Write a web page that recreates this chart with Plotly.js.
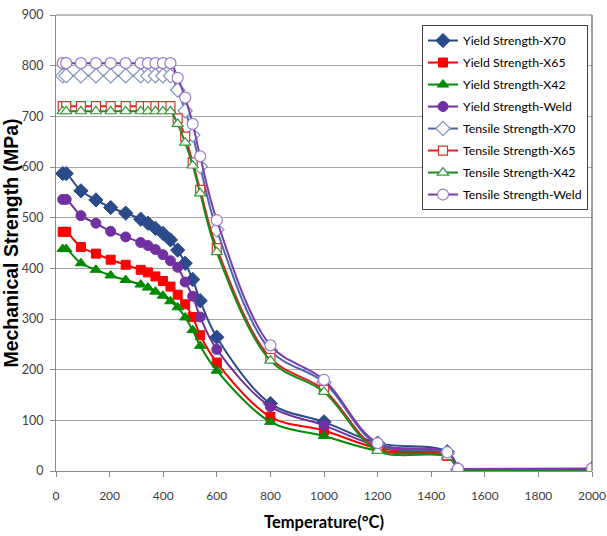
<!DOCTYPE html>
<html>
<head>
<meta charset="utf-8">
<script src="https://cdn.plot.ly/plotly-3.0.1.min.js"></script>
<style>html,body{margin:0;padding:0;background:#fff;}#chart{width:607px;height:536px;}</style>
</head>
<body>
<div id="chart"></div>
<script>
// Temperatures (°C)
const temperature = [25, 38, 93, 149, 204, 260, 316, 343, 371, 399, 427, 454, 482, 510, 538, 600, 800, 1000, 1200, 1460, 1500, 2000];

// Yield strength (MPa)
const yieldX70  = [587, 587, 553, 535, 520, 509, 497, 489, 479, 469, 456, 436, 410, 378, 336, 264, 133, 97, 55, 38, 3, 4];
const yieldX65  = [472, 472, 442, 429, 417, 407, 397, 392, 384, 375, 364, 348, 329, 304, 268, 214, 107, 80, 45, 32, 2, 3];
const yieldX42  = [438, 438, 410, 397, 386, 377, 368, 362, 354, 346, 335, 323, 303, 278, 247, 198, 97, 69, 40, 30, 1, 2];
const yieldWeld = [536, 536, 504, 489, 473, 462, 451, 445, 437, 427, 415, 402, 373, 345, 304, 240, 127, 90, 50, 35, 3, 4];

// Tensile strength (MPa)
const tensileX70  = [780, 780, 780, 780, 780, 780, 780, 780, 780, 780, 780, 752, 711, 663, 601, 476, 238, 175, 52, 35, 3, 4];
const tensileX65  = [720, 720, 720, 720, 720, 720, 720, 720, 720, 720, 720, 696, 660, 609, 555, 440, 223, 160, 44, 30, 2, 3];
const tensileX42  = [710, 710, 710, 710, 710, 710, 710, 710, 710, 710, 710, 685, 648, 603, 548, 432, 218, 156, 40, 28, 1, 2];
const tensileWeld = [805, 805, 805, 805, 805, 805, 805, 805, 805, 805, 805, 776, 737, 685, 621, 495, 248, 180, 55, 37, 4, 5];

const seriesNames = [
  'Yield Strength-X70', 'Yield Strength-X65', 'Yield Strength-X42', 'Yield Strength-Weld',
  'Tensile Strength-X70', 'Tensile Strength-X65', 'Tensile Strength-X42', 'Tensile Strength-Weld'
];

const TXT = 'Lato, "Liberation Sans", sans-serif';
const SPLIT = temperature.indexOf(1500); // spline up to 1500 °C, straight segment after

function makeSeries(idx, y, lineColor, fill, markColor, symbol, size) {
  const common = {
    type: 'scatter', mode: 'lines+markers', legendgroup: 'g' + idx,
    marker: {color: fill, symbol: symbol, size: size, line: {color: markColor, width: fill === '#ffffff' ? 1.2 : 1}}
  };
  const main = Object.assign({}, common, {
    name: seriesNames[idx], x: temperature.slice(0, SPLIT + 1), y: y.slice(0, SPLIT + 1),
    line: {color: lineColor, width: 2, shape: 'spline', smoothing: 1}
  });
  const tail = Object.assign({}, common, {
    name: seriesNames[idx], showlegend: false, x: temperature.slice(SPLIT), y: y.slice(SPLIT),
    line: {color: lineColor, width: 2, shape: 'linear'}
  });
  return [main, tail];
}

const data = [].concat(
  makeSeries(0, yieldX70,  '#2a4a8a', '#2a4a8a', '#2a4a8a', 'diamond', 11),
  makeSeries(1, yieldX65,  '#ff0000', '#ff0000', '#ff0000', 'square', 9),
  makeSeries(2, yieldX42,  '#008a00', '#008a00', '#008a00', 'triangle-up', 10),
  makeSeries(3, yieldWeld, '#7030a0', '#7030a0', '#7030a0', 'circle', 10),
  makeSeries(4, tensileX70,  '#4a66a8', '#ffffff', '#7f93b8', 'diamond', 11),
  makeSeries(5, tensileX65,  '#e02020', '#ffffff', '#e03030', 'square', 9),
  makeSeries(6, tensileX42,  '#1a8a1a', '#ffffff', '#3a9a3a', 'triangle-up', 10),
  makeSeries(7, tensileWeld, '#7a3ab0', '#ffffff', '#9a7ac8', 'circle', 11)
);

const layout = {
  width: 607, height: 536,
  margin: {l: 56, r: 15, t: 15, b: 65},
  paper_bgcolor: '#ffffff', plot_bgcolor: '#ffffff',
  showlegend: true,
  font: {family: TXT, size: 12.5, color: '#404040'},
  xaxis: {
    range: [0, 2000], dtick: 200, tick0: 0,
    showgrid: false, zeroline: false,
    showline: true, linecolor: '#8a8a8a', linewidth: 1,
    ticks: 'outside', ticklen: 5, tickcolor: '#8a8a8a',
    ticklabelstandoff: 9, ticklabeloverflow: 'allow',
    tickfont: {family: TXT, size: 12, color: '#404040'},
    title: {text: 'Temperature(°C)', standoff: 14,
            font: {family: TXT, size: 16.5, color: '#000000', weight: 'bold'}}
  },
  yaxis: {
    range: [0, 900], dtick: 100, tick0: 0,
    showgrid: true, gridcolor: '#a6a6a6', gridwidth: 1, zeroline: false,
    showline: true, linecolor: '#8a8a8a', linewidth: 1,
    ticks: 'outside', ticklen: 5, tickcolor: '#8a8a8a',
    ticklabelstandoff: 4,
    tickfont: {family: TXT, size: 12.5, color: '#404040'},
    title: {text: 'Mechanical Strength (MPa)', standoff: 0,
            font: {family: '"Liberation Sans", Arial, sans-serif', size: 19.5, color: '#000000', weight: 'bold'}}
  },
  legend: {
    x: 0.9925, y: 0.978, xanchor: 'right', yanchor: 'top',
    bgcolor: '#ffffff', bordercolor: '#404040', borderwidth: 1,
    font: {family: TXT, size: 12.3, color: '#000000'},
    itemwidth: 30, tracegroupgap: 3, traceorder: 'grouped'
  },
  shapes: [
    {type: 'line', xref: 'paper', yref: 'paper', x0: 1, x1: 1, y0: 0, y1: 1,
     line: {color: '#404040', width: 1}},
    {type: 'line', xref: 'paper', yref: 'paper', x0: 0, x1: 1, y0: 1, y1: 1,
     line: {color: '#808080', width: 1}}
  ]
};

Plotly.newPlot('chart', data, layout, {staticPlot: true, displayModeBar: false});
</script>
</body>
</html>
